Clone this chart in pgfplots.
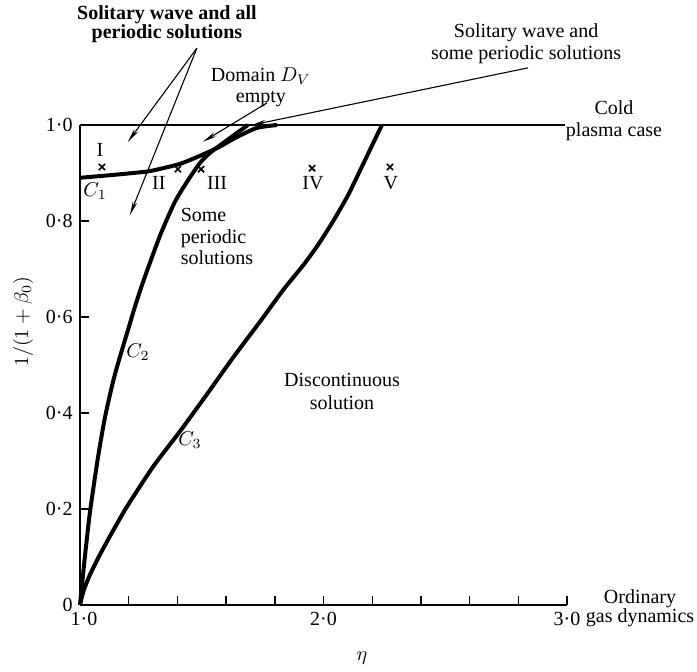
\documentclass[border=0pt]{standalone}
\usepackage{fontspec}
\setmainfont{Liberation Serif}
\usepackage{pgfplots}
\pgfplotsset{compat=1.18}
\usetikzlibrary{arrows.meta}
\begin{document}
\begin{tikzpicture}
\useasboundingbox (-40pt,-33.5pt) rectangle (308.5pt,302.5pt);
\begin{axis}[
  at={(0,0)}, anchor=south west,
  scale only axis, width=243.5pt, height=240pt,
  xmin=1, xmax=3, ymin=0, ymax=1,
  axis x line*=bottom, axis y line*=left,
  axis line style={line width=0.7pt},
  clip=false,
  xtick={1,2,3}, xticklabels={\kern4pt 1·0,2·0,3·0},
  minor xtick={1.2,1.4,1.6,1.8,2.2,2.4,2.6,2.8},
  ytick={0,0.2,0.4,0.6,0.8,1}, yticklabels={0,0·2,0·4,0·6,0·8,1·0},
  tick align=inside, major tick length=4.5pt, minor tick length=4.5pt,
  tick style={line width=0.7pt, black},
  ticklabel style={font=\fontsize{10}{12}\selectfont},
  xticklabel style={inner sep=1pt, yshift=-2.5pt},
  yticklabel style={inner sep=1pt, xshift=-2.5pt},
  xlabel={$\eta$}, xlabel style={at={(axis description cs:0.579,-0.11)}, anchor=center},
  ylabel={$1/(1+\beta_0)$}, ylabel style={at={(axis description cs:-0.117,0.59)}, anchor=center},
]
% top line (cold plasma case)
\addplot[line width=0.7pt] coordinates {(1,1) (2.99,1)};
% C1
\addplot[line width=2pt, smooth, tension=0.4] coordinates {
 (1.0,0.890) (1.136,0.896) (1.275,0.903) (1.341,0.910) (1.411,0.919) (1.480,0.933)
 (1.563,0.952) (1.645,0.975) (1.727,0.994) (1.81,1.0)};
% C2
\addplot[line width=2pt, smooth, tension=0.4] coordinates {
 (1.0,0) (1.02,0.10) (1.041,0.194) (1.074,0.308) (1.103,0.392) (1.136,0.466) (1.164,0.517)
 (1.193,0.566) (1.226,0.622) (1.259,0.673) (1.329,0.770) (1.39,0.840) (1.445,0.886)
 (1.493,0.921) (1.534,0.942) (1.60,0.967) (1.69,1.0)};
% C3
\addplot[line width=2pt, smooth, tension=0.4] coordinates {
 (1.0,0) (1.015,0.03) (1.04,0.062) (1.082,0.105) (1.136,0.155) (1.193,0.205) (1.30,0.288)
 (1.411,0.362) (1.48,0.41) (1.534,0.448) (1.628,0.515) (1.739,0.59) (1.834,0.656)
 (1.92,0.71) (1.98,0.752) (2.04,0.80) (2.10,0.853) (2.15,0.905) (2.20,0.958) (2.24,1.0)};
% crosses
\addplot[only marks, mark=x, mark size=2.2pt, line width=0.8pt] coordinates {
 (1.090,0.9125) (1.402,0.908) (1.497,0.908) (1.953,0.91) (2.273,0.9125)};
% arrows
\draw[line width=0.55pt, -{Stealth[length=7pt,width=2.4pt]}] (axis cs:1.480,1.160) -- (axis cs:1.197,0.965);
\draw[line width=0.55pt, -{Stealth[length=7pt,width=2.4pt]}] (axis cs:1.480,1.160) -- (axis cs:1.205,0.8125);
\draw[line width=0.55pt, -{Stealth[length=7pt,width=2.4pt]}] (axis cs:1.768,1.046) -- (axis cs:1.505,0.965);
\draw[line width=0.55pt, -{Stealth[length=7pt,width=2.4pt]}] (axis cs:2.84,1.119) -- (axis cs:1.706,1.0);
% labels
\node at (axis cs:1.082,0.948) {I};
\node at (axis cs:1.324,0.879) {II};
\node at (axis cs:1.563,0.879) {III};
\node at (axis cs:1.957,0.879) {IV};
\node at (axis cs:2.277,0.879) {V};
\node at (axis cs:1.062,0.862) {$C_1$};
\node at (axis cs:1.238,0.527) {$C_2$};
\node at (axis cs:1.452,0.344) {$C_3$};
\node[align=left, anchor=west, font=\fontsize{10}{10.8}\selectfont] at (axis cs:1.385,0.767) {Some\\periodic\\solutions};
\node[align=center, font=\fontsize{10}{11.5}\selectfont] at (axis cs:2.076,0.444) {Discontinuous\\solution};
\node[align=center, font=\fontsize{10}{10.5}\selectfont] at (axis cs:1.743,1.079) {Domain $D_V$\\empty};
\node[align=center, font=\fontsize{10}{9.2}\selectfont\bfseries] at (axis cs:1.357,1.21) {Solitary wave and all\\periodic solutions};
\node[align=center, font=\fontsize{10}{11}\selectfont] at (axis cs:2.832,1.169) {Solitary wave and\\some periodic solutions};
\node[align=center, font=\fontsize{10}{11}\selectfont] at (axis cs:3.193,1.008) {Cold\\plasma case};
\node[align=center, font=\fontsize{10}{9.5}\selectfont] at (axis cs:3.30,-0.006) {Ordinary\\gas dynamics};
\end{axis}
\end{tikzpicture}
\end{document}
